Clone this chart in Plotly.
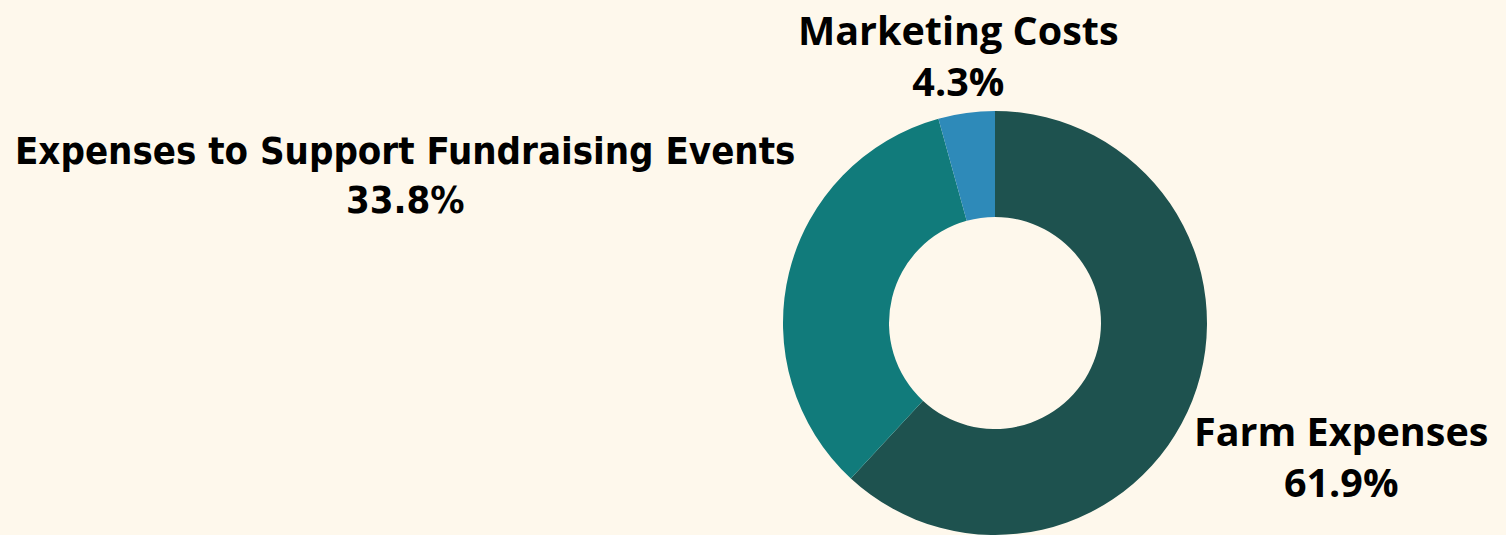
import plotly.graph_objects as go

categories = ["Farm Expenses", "Expenses to Support Fundraising Events", "Marketing Costs"]
values = [61.9, 33.8, 4.3]
colors = ["#1e524f", "#117b7b", "#2e8ab9"]

total = sum(values)
pct = [f"{v / total * 100:.1f}%" for v in values]

W, H = 1506, 535
bg = "#fef8ec"

fig = go.Figure(go.Pie(
    labels=categories,
    values=values,
    hole=0.5,
    sort=False,
    direction="clockwise",
    rotation=0,
    marker=dict(colors=colors, line=dict(width=0)),
    textinfo="none",
    hoverinfo="label+percent",
    domain=dict(x=[783 / W, 1207 / W], y=[0, 1 - 111 / H]),
    showlegend=False,
))

main_font = dict(family="Open Sans", size=39.5, color="#000000", weight=700)
narrow_font = dict(family="DejaVu Sans Condensed, Roboto Condensed, Roboto", size=38, color="#000000", weight=700)

label_pos = {
    "Farm Expenses": (1341 / W, 1 - 456 / H, main_font),
    "Expenses to Support Fundraising Events": (405 / W, 1 - 176 / H, narrow_font),
    "Marketing Costs": (958 / W, 1 - 55 / H, main_font),
}

for cat, p in zip(categories, pct):
    x, y, f = label_pos[cat]
    fig.add_annotation(
        x=x, y=y, xref="paper", yref="paper",
        text=f"{cat}<br>{p}", showarrow=False,
        xanchor="center", yanchor="middle", align="center",
        font=f,
    )

fig.update_layout(
    width=W, height=H,
    margin=dict(l=0, r=0, t=0, b=0),
    paper_bgcolor=bg, plot_bgcolor=bg,
)

fig.write_html(
    "out.html",
    config={"displayModeBar": False},
    post_script="document.body.style.margin='0';document.body.style.overflow='hidden';document.body.style.background='%s';" % bg,
)
